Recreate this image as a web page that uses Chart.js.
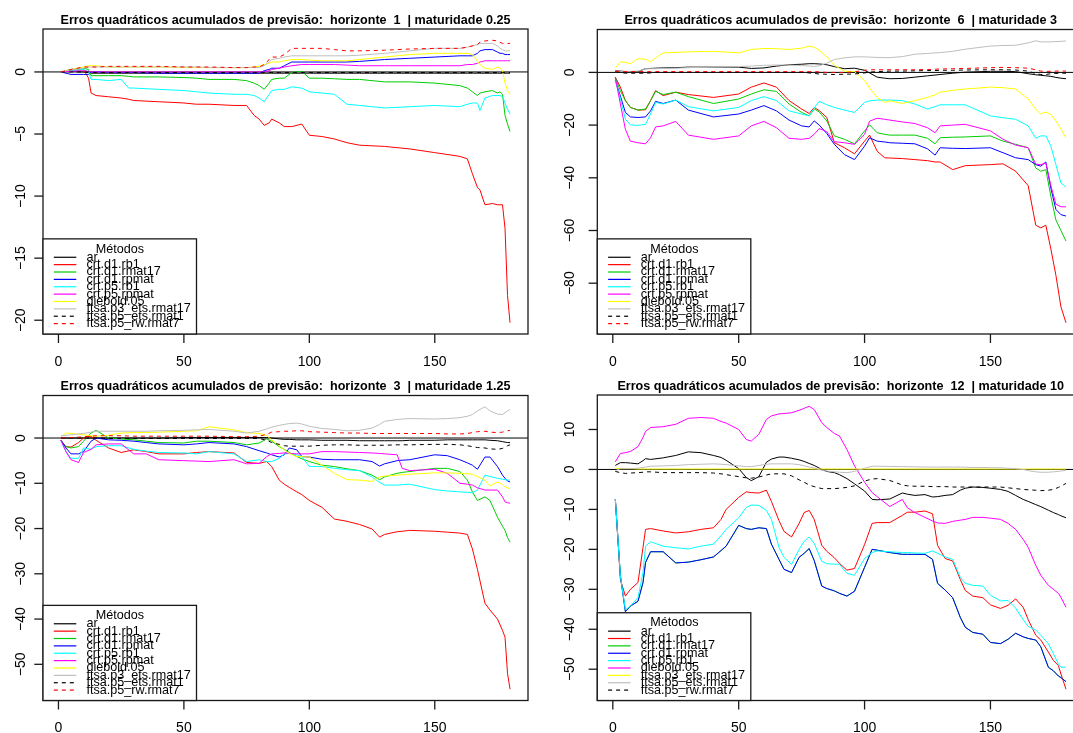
<!DOCTYPE html>
<html>
<head>
<meta charset="utf-8">
<script src="https://cdn.jsdelivr.net/npm/chart.js@4.4.1/dist/chart.umd.min.js"></script>
<style>
  body { margin: 0; width: 1073px; height: 733px; overflow: hidden; background: #fff; position: relative; }
  canvas { position: absolute; }
</style>
</head>
<body>
<canvas id="p1" width="540" height="366" style="left:0;top:0"></canvas>
<canvas id="p2" width="560" height="366" style="left:540px;top:0"></canvas>
<canvas id="p3" width="540" height="367" style="left:0;top:366px"></canvas>
<canvas id="p4" width="560" height="367" style="left:540px;top:366px"></canvas>
<script>
// ---- series names / colours (R palette) ----
const methods10 = ['ar', 'crt.d1.rb1', 'crt.d1.rmat17', 'crt.d1.rpmat', 'crt.p5.rb1', 'crt.p5.rpmat',
  'diebold.05', 'ftsa.p3_ets.rmat17', 'ftsa.p5_ets.rmat1', 'ftsa.p5_rw.rmat7'];
const methods9 = ['ar', 'crt.d1.rb1', 'crt.d1.rmat17', 'crt.d1.rpmat', 'crt.p5.rb1', 'diebold.05',
  'ftsa.p3_ets.rmat17', 'ftsa.p5_ets.rmat1', 'ftsa.p5_rw.rmat7'];
const palette = ['#000000', '#FF0000', '#00CD00', '#0000FF', '#00FFFF', '#FF00FF', '#FFFF00', '#BEBEBE', '#000000', '#FF0000'];

const xTicks = [0, 50, 100, 150];
const yTicks1 = [-20, -15, -10, -5, 0];
const yTicks2 = [-80, -60, -40, -20, 0];
const yTicks3 = [-50, -40, -30, -20, -10, 0];
const yTicks4 = [-50, -40, -30, -20, -10, 0, 10];

// ---- panel 1: horizonte 1 | maturidade 0.25 ----
const x1 = [1,5,10,12,13,15,20,25,28,30,40,50,55,60,70,75,78,80,82,84,85,88,90,93,97,100,105,110,115,120,130,140,150,160,163,165,167,168,170,173,175,176,177,178,179,180];
const h1_ar = [0,0.05,0,-0.05,-0.1,-0.1,-0.1,-0.1,-0.1,-0.1,-0.1,-0.1,-0.1,-0.1,-0.1,-0.1,-0.1,-0.1,-0.1,-0.1,-0.1,-0.1,-0.1,-0.1,-0.1,-0.1,-0.1,-0.1,-0.1,-0.1,-0.1,-0.1,-0.1,-0.1,-0.1,-0.1,-0.1,-0.1,-0.1,-0.1,-0.1,-0.1,-0.1,-0.1,-0.1,-0.1];
const h1_d1rb1 = [0,0.1,0.2,-0.5,-1.7,-1.9,-2.0,-2.1,-2.2,-2.3,-2.4,-2.5,-2.6,-2.6,-2.7,-2.7,-3.5,-3.8,-4.3,-4.1,-3.8,-4.1,-4.4,-4.4,-4.2,-5.1,-5.2,-5.4,-5.7,-5.9,-6.0,-6.2,-6.5,-6.8,-7.0,-8.2,-9.3,-9.5,-10.7,-10.6,-10.7,-10.7,-10.7,-12.6,-18.0,-20.2];
const h1_d1rmat17 = [0,0.2,0.3,0.2,-0.3,-0.3,-0.3,-0.3,-0.35,-0.4,-0.4,-0.45,-0.5,-0.6,-0.6,-0.7,-0.9,-1.1,-1.4,-0.9,-0.6,-0.5,-0.5,-0.05,0.05,-0.5,-0.5,-0.55,-0.6,-0.6,-0.8,-0.8,-0.9,-1.1,-1.3,-1.6,-1.9,-1.7,-1.6,-1.5,-1.7,-1.6,-1.8,-3.5,-4.2,-4.8];
const h1_d1rpmat = [0,-0.2,-0.2,-0.2,0,0,-0.05,-0.05,-0.05,-0.05,-0.1,-0.1,-0.1,-0.1,-0.1,-0.1,-0.1,-0.1,0.1,0.2,0.3,0.3,0.5,0.8,0.8,0.8,0.8,0.8,0.8,0.85,1.0,1.1,1.2,1.3,1.3,1.3,1.5,1.7,1.8,1.8,1.6,1.5,1.5,1.4,1.4,1.4];
const h1_p5rb1 = [0,0.1,0.2,0,-0.6,-0.6,-0.7,-0.6,-1.3,-1.3,-1.4,-1.5,-1.6,-1.7,-1.8,-1.8,-1.9,-2.1,-2.4,-1.8,-1.5,-1.4,-1.4,-1.2,-1.3,-1.6,-1.7,-1.8,-2.6,-2.7,-2.9,-2.8,-2.7,-2.8,-2.6,-2.5,-2.5,-3.1,-2.1,-1.9,-1.9,-1.9,-2.0,-2.5,-3.0,-3.4];
const h1_p5rpmat = [0,0.05,0.1,0.05,0,0,0,0,0,0,0,0,0,0,0,0,0,0,0,0.1,0.2,0.3,0.4,0.5,0.6,0.6,0.6,0.6,0.55,0.5,0.5,0.5,0.5,0.5,0.6,0.6,0.7,0.8,0.9,0.9,0.9,0.9,0.9,0.9,0.9,0.9];
const h1_diebold = [0,0.2,0.4,0.5,0.5,0.5,0.4,0.4,0.4,0.4,0.4,0.35,0.35,0.35,0.35,0.35,0.4,0.45,0.6,0.7,0.8,0.8,0.9,1.0,1.0,0.95,0.9,0.9,0.9,1.0,1.2,1.4,1.5,1.5,1.5,1.4,0.9,0.6,0.3,0.2,0.4,0.3,0.1,-0.9,-1.5,-1.8];
const h1_p3ets = [0,0.2,0.3,0.4,0.4,0.4,0.4,0.4,0.4,0.4,0.4,0.4,0.4,0.35,0.35,0.35,0.35,0.35,0.5,0.8,1.0,1.1,1.2,1.3,1.3,1.3,1.3,1.3,1.3,1.35,1.5,1.7,1.9,1.9,2.0,2.1,2.2,2.3,2.3,2.3,2.1,1.9,1.8,1.7,1.7,1.7];
const h1_p5ets = [0,0,0,0,-0.05,-0.05,-0.05,-0.05,-0.05,-0.05,-0.05,-0.05,-0.05,-0.05,-0.05,-0.05,-0.05,-0.05,-0.05,-0.05,-0.05,-0.05,-0.05,-0.05,-0.05,-0.05,-0.05,-0.05,-0.05,-0.05,-0.05,-0.05,-0.05,-0.05,-0.05,-0.05,-0.05,-0.05,-0.05,-0.05,-0.05,-0.05,-0.05,-0.05,-0.05,-0.05];
const h1_p5rw = [0,0.2,0.4,0.4,0.4,0.4,0.45,0.45,0.45,0.45,0.45,0.4,0.4,0.4,0.35,0.35,0.4,0.4,0.6,1.0,1.2,1.2,1.4,1.9,1.9,1.9,1.9,1.8,1.7,1.7,1.75,1.85,1.9,1.9,2.0,2.1,2.2,2.4,2.5,2.55,2.5,2.4,2.3,2.3,2.3,2.3];

// ---- panel 2: horizonte 6 | maturidade 3 ----
const x2 = [1,3,5,7,10,13,15,17,20,25,30,40,50,55,60,65,70,75,78,80,82,85,88,92,96,100,102,105,108,110,115,120,125,128,130,135,140,150,155,160,165,168,170,172,174,176,178,180];
const h2_ar = [0.5,0.5,0.3,0.3,0.3,1.4,1.5,1.6,1.7,1.8,2.0,2.0,2.0,1.5,1.7,2.4,2.9,3.1,3.3,3.3,3.2,2.9,2.2,1.4,1.6,0.8,-0.2,-1.8,-2.2,-2.4,-2.3,-1.8,-1.3,-1.0,-0.8,-0.3,0.1,0.4,0.4,0.3,-0.5,-0.9,-1.1,-1.3,-1.5,-1.9,-2.2,-2.4];
const h2_d1rb1 = [-1.8,-5.6,-10.7,-13.3,-14.3,-14.2,-10.7,-6.9,-8.8,-7.5,-8.4,-9.5,-8.2,-5.6,-4.0,-5.6,-10.7,-13.9,-15.6,-13.3,-14.5,-17.1,-26.7,-28.6,-30.9,-26.1,-23.8,-29.9,-32.4,-32.5,-32.7,-33.1,-33.5,-34.0,-34.0,-36.9,-35.4,-35.0,-34.7,-37.5,-43,-58,-59,-58,-67,-77,-89,-95];
const h2_d1rmat17 = [-2,-7,-10.7,-13.3,-14.3,-13.9,-10.7,-7.2,-8.4,-7.5,-9.2,-11.8,-10.1,-8.2,-6.6,-7.2,-12.0,-15.2,-16.5,-13.9,-15.0,-18.4,-24.1,-25.4,-27.1,-22.2,-19.9,-22.9,-23.5,-23.8,-23.8,-23.8,-25.0,-27.1,-24.8,-24.6,-24.5,-24.1,-26.1,-27.3,-28.6,-36.3,-37.5,-36.9,-47,-56,-60,-64];
const h2_d1rpmat = [-3,-9,-15.2,-16.9,-17.1,-16.9,-14.6,-11.0,-11.8,-10.5,-14.3,-16.9,-15.8,-14.3,-12.6,-14.6,-18.1,-20.3,-20.7,-18.4,-20.0,-23.2,-27.3,-31.2,-33.1,-28.0,-24.8,-26.1,-26.4,-26.7,-26.9,-27.1,-29,-31.4,-28.6,-28.8,-28.9,-28.6,-30.5,-32.4,-33.1,-35,-35.6,-34,-44,-52,-54,-54.5];
const h2_p5rb1 = [-3,-10,-17.8,-19.9,-20.1,-19.7,-15.8,-11.4,-12.0,-10.5,-13.0,-14.6,-13.3,-10.7,-9.2,-10.7,-14.6,-15.8,-16.5,-13.5,-11.0,-12.3,-13.3,-14.3,-15.2,-11.4,-10.8,-10.5,-10.5,-10.5,-10.7,-12.0,-13.9,-13.0,-12.3,-12.3,-12.3,-16.5,-17.2,-17.8,-20.3,-25.0,-24.1,-24.1,-28,-35,-42,-43.5];
const h2_p5rpmat = [-2,-12,-21.6,-26.1,-26.7,-27.1,-24.8,-20.7,-20.3,-18.6,-23.8,-25.4,-24.1,-20.3,-18.6,-21.0,-25.0,-25.4,-25.0,-23.5,-21.3,-22.5,-26.3,-26.7,-27.3,-23.5,-18.5,-17.4,-17.8,-18.1,-18.8,-19.4,-21.0,-22.9,-20.3,-20.0,-19.7,-22.2,-25.4,-27.6,-28.6,-34.8,-35,-34.4,-43,-50,-51,-51];
const h2_diebold = [1.7,4.0,3.8,3.3,5.2,5.0,4.0,5.5,7.4,7.6,7.8,8.0,7.4,8.7,9.1,9.0,8.7,9.2,10.0,9.5,8.4,5.9,2.7,0.5,0.3,-3.1,-6.0,-9.5,-11.4,-10.8,-11.8,-10.7,-9.5,-8.5,-7.5,-6.8,-6.3,-5.6,-5.8,-6.3,-10.1,-14,-15.8,-15.0,-16.0,-18.4,-21.5,-24.8];
const h2_p3ets = [0.3,0.4,0.4,0.4,0.5,1.4,1.4,1.4,1.5,1.6,1.8,2.0,2.2,2.4,2.7,2.8,2.8,2.6,2.4,2.3,2.5,3.5,4.9,5.5,5.9,5.9,5.8,5.7,5.6,5.6,6.0,6.9,7.2,7.4,7.5,8.0,8.8,10.0,10.2,10.3,11.2,12.0,11.6,11.6,11.6,11.7,11.8,11.9];
const h2_p5ets = [0.3,0,-0.3,-0.3,-0.3,-0.3,-0.2,0,0,0,0,0,0,0,0,0,0,0,-0.2,-0.4,-0.6,-0.7,-0.8,-0.7,-0.6,-0.2,0.1,0.3,0.4,0.5,0.5,0.6,0.7,0.7,0.8,0.8,0.9,1.0,1.0,0.9,0.5,-0.5,-0.8,-0.8,-0.5,-0.4,-0.3,-0.3];
const h2_p5rw = [0.5,0.4,0.3,0.3,0.3,0.3,0.3,0.3,0.3,0.3,0.3,0.3,0.3,0.3,0.3,0.3,0.3,0.3,0.3,0.3,0.2,0,0,0,0.2,0.8,1.0,1.0,1.0,1.0,1.0,1.0,1.1,1.2,1.3,1.4,1.5,1.8,1.9,1.8,1.6,1.0,0.5,0.4,0.4,0.5,0.5,0.5];

// ---- panel 3: horizonte 3 | maturidade 1.25 ----
const x3 = [1,3,5,8,10,13,15,20,25,30,35,40,50,55,60,70,75,80,83,85,88,90,92,95,97,100,105,110,115,120,125,128,130,135,137,140,150,155,160,163,165,167,170,172,175,177,178,179,180];
const h3_ar = [0,0,0,0,0,0,0,0,0,0,0,0,0.1,0.1,0.1,0.1,0.1,0.1,0.1,0,-0.2,-0.3,-0.3,-0.4,-0.4,-0.4,-0.5,-0.5,-0.5,-0.6,-0.6,-0.6,-0.6,-0.6,-0.6,-0.5,-0.5,-0.4,-0.4,-0.4,-0.4,-0.4,-0.4,-0.5,-0.6,-0.8,-0.9,-1.0,-1.0];
const h3_d1rb1 = [-0.5,-1.9,-2.0,-1.0,0,0.4,-0.5,-2.2,-3.2,-2.6,-3.0,-3.5,-3.5,-3.2,-3.0,-3.3,-5.4,-5.6,-5.2,-6.3,-9.3,-10.2,-10.9,-11.9,-12.5,-13.8,-15.3,-17.9,-18.4,-19.1,-20.1,-21.9,-21.3,-20.7,-20.6,-20.4,-20.6,-20.8,-21.0,-21.3,-24.5,-29,-36.5,-38,-40,-42.5,-44,-52,-55.5];
const h3_d1rmat17 = [-0.7,-1.9,-2.2,-1.9,-0.7,1.1,1.7,0,-0.2,-0.4,-0.7,-1.0,-1.1,-0.7,-0.7,-1.0,-1.5,-1.1,-0.2,-0.7,-1.9,-2.5,-3.2,-4.1,-4.6,-5.2,-6.0,-6.3,-6.8,-7.2,-8.2,-9.2,-8.6,-7.8,-7.6,-7.4,-6.7,-6.7,-7.4,-9.3,-11.9,-13.8,-13.0,-13.8,-17.5,-19.5,-20.4,-22,-23];
const h3_d1rpmat = [-0.5,-2.2,-3.5,-3.5,-3.0,-0.7,0,-0.4,-0.5,-0.7,-1.0,-1.3,-1.5,-1.3,-1.0,-1.3,-1.9,-2.8,-3.3,-3.7,-4.2,-3.7,-2.2,-2.6,-4.1,-4.2,-4.7,-4.8,-4.8,-4.8,-5.2,-6.2,-5.7,-5.0,-4.9,-4.8,-3.7,-3.9,-4.8,-5.5,-6.0,-6.9,-4.2,-4.2,-6.3,-8.2,-8.9,-9.5,-9.7];
const h3_p5rb1 = [-0.7,-3.0,-4.5,-4.5,-2.2,-2.5,-1.9,-1.7,-1.7,-2.5,-2.9,-3.2,-3.3,-3.5,-3.0,-3.5,-5.2,-4.8,-5.2,-5.2,-4.5,-3.5,-3.4,-3.7,-4.1,-6.3,-6.3,-6.7,-7.0,-7.2,-8.6,-9.8,-10.4,-10.4,-10.3,-10.2,-11.4,-11.7,-11.9,-12.0,-12.1,-11.5,-8.2,-8.5,-8.9,-9.1,-9.2,-9.3,-9.3];
const h3_p5rpmat = [-0.5,-3.0,-4.8,-5.4,-3.2,-2.5,-1.5,-1.3,-1.3,-3.5,-3.5,-4.8,-5.0,-5.1,-5.2,-4.8,-5.7,-5.6,-4.1,-3.5,-3.4,-3.3,-3.4,-3.5,-3.5,-3.5,-3.0,-3.0,-3.1,-3.2,-3.3,-3.4,-3.5,-3.7,-6.7,-7.2,-6.9,-7.8,-10.0,-10.2,-10.4,-11.0,-11.5,-11.5,-11.5,-13.0,-14.1,-14.3,-14.4];
const h3_diebold = [0.3,1.1,1.0,0.8,0.7,0.5,0.4,0.6,1.1,1.2,1.2,1.3,1.5,1.6,2.5,1.8,1.2,1.0,0.5,-0.4,-1.7,-2.6,-3.4,-4.1,-4.1,-4.2,-6.0,-7.8,-9.2,-9.3,-9.6,-8.6,-8.4,-8.2,-8.1,-8.0,-7.7,-7.7,-7.8,-7.9,-8.0,-8.5,-9.3,-10.6,-9.7,-10.3,-10.8,-11.0,-11.2];
const h3_p3ets = [0.5,0.6,0.7,0.9,1.0,1.3,1.5,1.5,1.5,1.5,1.5,1.6,1.7,1.8,1.9,1.5,1.1,1.5,2.0,2.4,2.8,3.0,3.2,3.3,3.1,2.6,2.1,1.9,1.6,1.7,2.2,3.0,3.7,4.1,4.2,4.3,4.2,4.3,4.5,4.8,5.2,6.0,6.9,6.0,5.3,5.2,5.6,6.0,6.3];
const h3_p5ets = [0,0,0,0,0,0,0,-0.1,-0.1,-0.1,-0.1,-0.1,-0.1,-0.1,-0.1,-0.1,-0.1,-0.1,-0.5,-1.0,-1.4,-1.7,-1.8,-1.8,-1.8,-1.8,-1.6,-1.5,-1.5,-1.6,-1.6,-1.6,-1.6,-1.5,-1.5,-1.5,-1.4,-1.4,-1.5,-1.7,-1.9,-2.1,-2.2,-2.4,-2.5,-2.3,-2.0,-1.7,-1.5];
const h3_p5rw = [0,0.1,0.1,0.2,0.3,0.4,0.5,0.5,0.5,0.4,0.4,0.4,0.4,0.4,0.4,0.3,0.3,0.4,0.8,1.3,1.4,1.5,1.5,1.6,1.6,1.4,1.3,1.2,1.1,1.1,1.0,1.0,1.0,1.0,1.0,1.0,1.0,0.9,0.9,1.0,1.2,1.4,1.5,1.3,1.2,1.3,1.5,1.6,1.7];

// ---- panel 4: horizonte 12 | maturidade 10 ----
const x4 = [1,3,5,7,10,12,13,15,20,25,30,35,40,43,45,50,53,55,58,61,63,66,68,71,74,76,78,80,83,85,88,90,93,96,100,103,105,110,115,117,120,124,127,129,132,135,138,140,143,147,150,154,157,160,163,165,168,170,173,175,177,178,180];
const h4_ar = [1.0,1.7,1.7,1.6,1.4,2.2,2.7,2.5,2.9,3.5,4.4,4.2,3.5,3.0,2.3,0.2,-2.0,-2.8,-1.8,1.8,2.6,3.1,3.1,2.8,2.4,2.0,1.5,1.0,0,-0.5,-0.8,-1.3,-2.3,-3.6,-5.4,-7.5,-7.6,-7.4,-5.9,-6.2,-6.5,-6.3,-6.9,-6.8,-6.5,-6.3,-5.2,-4.7,-4.4,-4.5,-4.7,-5.0,-5.5,-6.5,-7.5,-8.0,-8.8,-9.3,-10.2,-10.8,-11.3,-11.6,-12.1];
const h4_d1rb1 = [-7.4,-27.5,-31.7,-30,-28.3,-19.5,-15.0,-14.8,-15.4,-15.9,-15.6,-15.0,-14.6,-12.5,-10.0,-7.0,-5.6,-5.8,-5.9,-5.2,-8.0,-12.8,-15.5,-16.9,-13.5,-10.8,-10.25,-12.5,-19.0,-20.5,-22.1,-23.5,-25.2,-24.8,-18.8,-13.5,-13.3,-13.3,-11.5,-10.7,-10.7,-10.4,-11.1,-19.0,-22.3,-22.9,-27.5,-30.3,-31.7,-32.1,-33.9,-34.8,-34.0,-32.4,-34.5,-37.6,-41.5,-42.7,-45.7,-47.8,-49.1,-51.2,-55.0];
const h4_d1rmat17 = [-7.4,-26.6,-35.6,-34.2,-33.0,-28.3,-23.3,-20.6,-20.6,-23.4,-23.2,-22.6,-21.9,-20.3,-19.2,-14.0,-14.8,-15.0,-14.6,-14.8,-18.7,-22.5,-25.0,-25.8,-22.0,-21.0,-19.8,-22.8,-29.2,-29.8,-30.4,-31.0,-31.7,-30.5,-24.5,-20.0,-20.2,-20.8,-21.25,-21.25,-21.25,-21.25,-22.5,-28.5,-30.2,-32.1,-37.0,-39.5,-40.8,-41.25,-43.3,-43.6,-42.5,-41.0,-41.9,-42.3,-42.7,-44.4,-49.5,-50.4,-51.7,-52.1,-53.1];
const h4_d1rpmat = [-7.4,-26.6,-35.6,-34.2,-33.0,-28.3,-23.3,-20.6,-20.6,-23.4,-23.2,-22.6,-21.9,-20.3,-19.2,-14.0,-14.8,-15.0,-14.6,-14.8,-18.7,-22.5,-25.0,-25.8,-22.0,-21.0,-19.8,-22.8,-29.2,-29.8,-30.4,-31.0,-31.7,-30.5,-24.5,-20.0,-20.2,-20.8,-21.25,-21.25,-21.25,-21.25,-22.5,-28.5,-30.2,-32.1,-37.0,-39.5,-40.8,-41.25,-43.3,-43.6,-42.5,-41.0,-41.9,-42.3,-42.7,-44.4,-49.5,-50.4,-51.7,-52.1,-53.1];
const h4_p5rb1 = [-7.4,-26.6,-35.1,-34.2,-32.1,-25.8,-19.2,-18.1,-19.2,-19.6,-19.9,-19.2,-18.7,-16.6,-15.0,-12.1,-9.5,-8.9,-9.0,-10.25,-12.5,-19.5,-22.0,-23.75,-20.0,-18.0,-16.9,-18.5,-23.0,-23.6,-23.7,-23.75,-26.0,-26.5,-22.3,-20.8,-20.4,-20.6,-20.8,-20.8,-20.9,-21.0,-20.4,-21.0,-21.9,-22.5,-27.0,-28.5,-29.0,-29.2,-31.5,-32.9,-32.8,-34.7,-37.6,-39.3,-40.2,-41.5,-43.6,-46.1,-48.7,-49.5,-49.5];
const h4_diebold = [1.9,4.0,4.2,4.5,5.7,8.0,9.5,10.5,10.7,11.3,12.8,13.0,12.8,12.0,11.6,10.0,7.5,7.1,8.8,12.5,13.4,13.9,14.0,14.2,14.8,15.3,15.8,15.0,11.7,10.5,9.0,8.4,5.0,0.9,-3.2,-5.8,-6.8,-9.3,-7.5,-9.6,-10.8,-12.0,-12.9,-13.4,-13.5,-13.0,-12.7,-12.5,-12.0,-12.0,-12.2,-12.5,-13.5,-15.0,-17.5,-19.5,-24,-26.5,-29,-30,-31,-32,-34.5];
const h4_p3ets = [0.3,0.2,0.2,0.2,0.1,0.1,0.1,0.1,0.1,0.1,0.1,0.1,0.1,0.1,0.1,0.1,0.1,0.1,0.1,0.1,0.1,0.1,0.1,0.1,0.1,0.1,0.1,0.1,0.1,0.1,0.1,0.1,0.1,0.1,0.1,0.1,0.1,0.1,0.1,0.1,0.1,0.1,0.1,0.1,0.1,0.1,0.1,0.1,0.1,0.1,0.1,0.1,0.1,0.1,0.1,0.1,0.1,0.1,0.1,0.1,0.1,0.1,0.1];
const h4_p5ets = [-0.3,0.2,0.2,0.2,0.3,0.5,0.6,0.8,0.9,1.0,1.2,1.3,1.4,1.3,1.2,0.9,0.7,0.7,1.0,1.3,1.4,1.4,1.4,1.4,1.2,0.9,0.6,0.4,-0.25,-0.4,-0.6,-0.7,-0.8,-0.5,0.3,0.8,0.8,0.75,0.7,0.7,0.65,0.6,0.6,0.6,0.6,0.6,0.6,0.55,0.5,0.5,0.45,0.4,0.3,0.2,0.0,-0.3,-0.6,-0.7,-0.7,-0.6,-0.5,-0.4,-0.2];
const h4_p5rw = [-0.5,-0.8,-1.0,-0.9,-0.8,-0.7,-0.6,-0.6,-0.8,-0.8,-0.8,-0.8,-0.9,-1.1,-1.3,-1.8,-2.1,-2.2,-1.9,-1.4,-1.1,-1.1,-1.1,-1.6,-2.6,-3.2,-3.9,-4.3,-4.8,-4.8,-4.8,-4.7,-4.5,-4.1,-2.9,-2.4,-2.3,-2.75,-3.9,-4.1,-4.2,-4.2,-4.3,-4.3,-4.3,-4.4,-4.4,-4.4,-4.4,-4.4,-4.4,-4.4,-4.6,-4.8,-5.0,-5.1,-5.2,-5.3,-5.2,-5.0,-4.5,-4.2,-3.5];

const FONT = '"Liberation Sans", Arial, Helvetica, sans-serif';

function fmt(v) {
  return v < 0 ? '\u2212' + Math.abs(v) : String(v);
}

// draws the R-style frame, axes, title and legend around the lines
const rPlot = {
  id: 'rPlot',
  beforeDatasetsDraw(chart, args, o) {
    const { ctx, chartArea: a, scales: { y } } = chart;
    const py = y.getPixelForValue(0);
    ctx.save();
    ctx.strokeStyle = '#000';
    ctx.lineWidth = 1;
    ctx.beginPath();
    ctx.moveTo(a.left, py);
    ctx.lineTo(a.right, py);
    ctx.stroke();
    ctx.restore();
  },
  afterDatasetsDraw(chart, args, o) {
    const { ctx, chartArea: a, scales: { x, y } } = chart;
    ctx.save();
    ctx.strokeStyle = '#1a1a1a';
    ctx.lineWidth = 1.3;
    ctx.strokeRect(a.left, a.top, a.right - a.left, a.bottom - a.top);

    ctx.fillStyle = '#000';
    ctx.font = '14px ' + FONT;
    ctx.textAlign = 'center';
    ctx.textBaseline = 'middle';
    o.xTicks.forEach(v => {
      const px = x.getPixelForValue(v);
      ctx.beginPath();
      ctx.moveTo(px, a.bottom);
      ctx.lineTo(px, a.bottom + 9);
      ctx.stroke();
      ctx.fillText(fmt(v), px, a.bottom + o.xLabOff);
    });
    o.yTicks.forEach(v => {
      const py = y.getPixelForValue(v);
      ctx.beginPath();
      ctx.moveTo(a.left - 8.7, py);
      ctx.lineTo(a.left, py);
      ctx.stroke();
      ctx.save();
      ctx.translate(a.left - o.yLabOff, py);
      ctx.rotate(-Math.PI / 2);
      ctx.fillText(fmt(v), 0, 0);
      ctx.restore();
    });

    ctx.font = 'bold 12.6px ' + FONT;
    ctx.fillText(o.title, (a.left + a.right) / 2, a.top - 8.7);

    // legend, bottom-left inside the frame
    const n = o.names.length;
    const step = 7.37;
    const h = 18.4 + (n - 1) * step + 10.4;
    const w = 153.5;
    const lx = a.left, ly = a.bottom - h;
    ctx.fillStyle = '#fff';
    ctx.fillRect(lx, ly, w, h);
    ctx.strokeStyle = '#1a1a1a';
    ctx.lineWidth = 1.3;
    ctx.strokeRect(lx, ly, w, h);
    ctx.fillStyle = '#000';
    ctx.font = '12.6px ' + FONT;
    ctx.fillText('Métodos', lx + 77, ly + 10.2);
    ctx.textAlign = 'left';
    for (let i = 0; i < n; i++) {
      const yy = ly + 18.4 + i * step;
      ctx.strokeStyle = o.colors[i];
      ctx.lineWidth = 1.2;
      ctx.setLineDash(i >= o.dashFrom ? [4, 4] : []);
      ctx.beginPath();
      ctx.moveTo(lx + 10.8, yy);
      ctx.lineTo(lx + 33.3, yy);
      ctx.stroke();
      ctx.setLineDash([]);
      ctx.fillText(o.names[i], lx + 43.5, yy);
    }
    ctx.restore();
  }
};

function makePanel(id, xs, series, names, dashFrom, yTicks, title, pad, yLabOff, xLabOff) {
  const all = series.flat();
  const lo = Math.min(...all), hi = Math.max(...all);
  const ey = (hi - lo) * 0.04;
  const ex = (xs[xs.length - 1] - xs[0]) * 0.04;
  const datasets = series.map((vals, i) => ({
    label: names[i],
    data: xs.map((xv, k) => ({ x: xv, y: vals[k] })),
    borderColor: palette[i],
    borderWidth: 1,
    borderDash: i >= dashFrom ? [4, 4] : [],
    pointRadius: 0,
    fill: false,
    tension: 0,
    order: -i
  }));
  return new Chart(document.getElementById(id).getContext('2d'), {
    type: 'line',
    data: { datasets: datasets },
    options: {
      responsive: false,
      animation: false,
      events: [],
      layout: { padding: pad },
      scales: {
        x: { type: 'linear', display: false, min: xs[0] - ex, max: xs[xs.length - 1] + ex },
        y: { type: 'linear', display: false, min: lo - ey, max: hi + ey }
      },
      plugins: {
        legend: { display: false },
        tooltip: { enabled: false },
        rPlot: {
          title: title, names: names, colors: palette, dashFrom: dashFrom,
          xTicks: xTicks, yTicks: yTicks, yLabOff: yLabOff, xLabOff: xLabOff
        }
      }
    },
    plugins: [rPlot]
  });
}

makePanel('p1', x1,
  [h1_ar, h1_d1rb1, h1_d1rmat17, h1_d1rpmat, h1_p5rb1, h1_p5rpmat, h1_diebold, h1_p3ets, h1_p5ets, h1_p5rw],
  methods10, 8, yTicks1,
  'Erros quadráticos acumulados de previsão:  horizonte  1  | maturidade 0.25',
  { left: 43, top: 29, right: 12, bottom: 32 }, 22.3, 28.4);

makePanel('p2', x2,
  [h2_ar, h2_d1rb1, h2_d1rmat17, h2_d1rpmat, h2_p5rb1, h2_p5rpmat, h2_diebold, h2_p3ets, h2_p5ets, h2_p5rw],
  methods10, 8, yTicks2,
  'Erros quadráticos acumulados de previsão:  horizonte  6  | maturidade 3',
  { left: 57.3, top: 29.5, right: 16, bottom: 32 }, 27, 28.4);

makePanel('p3', x3,
  [h3_ar, h3_d1rb1, h3_d1rmat17, h3_d1rpmat, h3_p5rb1, h3_p5rpmat, h3_diebold, h3_p3ets, h3_p5ets, h3_p5rw],
  methods10, 8, yTicks3,
  'Erros quadráticos acumulados de previsão:  horizonte  3  | maturidade 1.25',
  { left: 43, top: 29.5, right: 12, bottom: 32.5 }, 22.3, 27.5);

makePanel('p4', x4,
  [h4_ar, h4_d1rb1, h4_d1rmat17, h4_d1rpmat, h4_p5rb1, h4_diebold, h4_p3ets, h4_p5ets, h4_p5rw],
  methods9, 8, yTicks4,
  'Erros quadráticos acumulados de previsão:  horizonte  12  | maturidade 10',
  { left: 57.3, top: 29, right: 16, bottom: 32.5 }, 27, 27.5);
</script>
</body>
</html>
